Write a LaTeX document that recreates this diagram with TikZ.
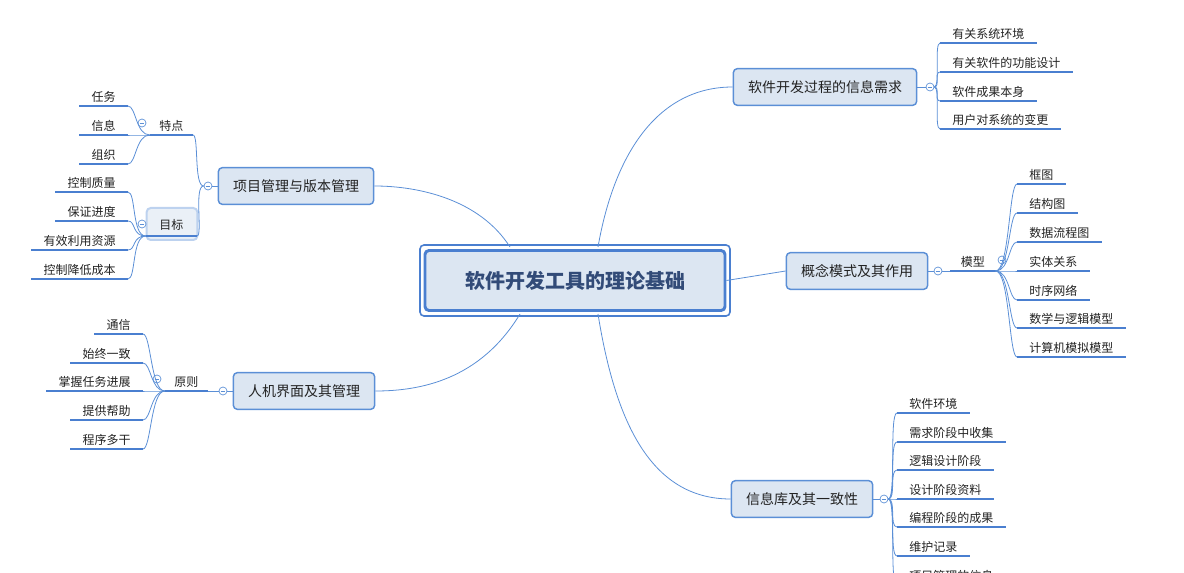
\documentclass[tikz,border=0pt]{standalone}
\usepackage{fontspec}
\setmainfont{Noto Sans CJK SC}
\definecolor{lb}{HTML}{5B8FD6}
\definecolor{ub}{HTML}{4A7FD0}
\definecolor{nf}{HTML}{DCE6F2}
\definecolor{tx}{HTML}{222222}
\begin{document}
\begin{tikzpicture}[x=0.75pt,y=-0.75pt,
 conn/.style={draw=lb,line width=0.6pt},
 branch/.style={draw=lb,line width=1.1pt,fill=nf,rounded corners=3pt,minimum height=27.5pt,inner xsep=11pt,font=\fontsize{10.5pt}{12pt}\selectfont,text=tx},
 leafr/.style={anchor=south west,inner xsep=9pt,inner ysep=2.5pt,font=\fontsize{9pt}{10pt}\selectfont,text=tx,
   append after command={\pgfextra{\draw[ub,line width=1.5pt](\tikzlastnode.south west)--(\tikzlastnode.south east);}}},
 leafl/.style={leafr,anchor=south east},
 tog/.style={circle,draw=lb,fill=white,minimum size=6pt,inner sep=0pt,line width=0.5pt,
   path picture={\draw[lb,line width=0.5pt]([xshift=-1.8pt]path picture bounding box.center)--([xshift=1.8pt]path picture bounding box.center);}}]
\useasboundingbox (0,0) rectangle (1184,573);
\clip (0,0) rectangle (1184,573);
% central
\draw[ub,line width=1.2pt,rounded corners=3pt] (420,245) rectangle (730,316);
\node[draw=ub,line width=2.2pt,fill=nf,rounded corners=3pt,minimum width=225pt,minimum height=45pt,font=\fontsize{15pt}{18pt}\selectfont\bfseries,text={rgb,255:red,50;green,75;blue,120}] (c) at (575,280.5) {软件开发工具的理论基础};
% branches
\node[branch] (b1) at (825,87) {软件开发过程的信息需求};
\node[branch] (b2) at (857,271) {概念模式及其作用};
\node[branch] (b3) at (802,499) {信息库及其一致性};
\node[branch] (b4) at (296,186) {项目管理与版本管理};
\node[branch] (b5) at (304,391) {人机界面及其管理};
\coordinate (ct1) at (598,247); \coordinate (ct2) at (510,247);
\coordinate (cb1) at (598,314); \coordinate (cb2) at (520,314);
\draw[conn] (ct1) .. controls (615,150) and (660,87) .. (b1.west);
\draw[conn] (c.east) -- (b2.west);
\draw[conn] (cb1) .. controls (615,420) and (650,499) .. (b3.west);
\draw[conn] (ct2) .. controls (480,200) and (420,186) .. (b4.east);
\draw[conn] (cb2) .. controls (480,380) and (420,391) .. (b5.east);
% toggles
\node[tog] (t1) at (930,87) {}; \node[tog] (t2) at (938,271) {}; \node[tog] (t3) at (884,499) {};
\node[tog] (t4) at (208,186) {}; \node[tog] (t5) at (223,391) {};
\draw[conn] (b1.east)--(t1.west); \draw[conn] (b2.east)--(t2.west); \draw[conn] (b3.east)--(t3.west);
\draw[conn] (b4.west)--(t4.east); \draw[conn] (b5.west)--(t5.east);
% b1 leaves
\node[leafr] (a1) at (940,43) {有关系统环境};
\node[leafr] (a2) at (940,72) {有关软件的功能设计};
\node[leafr] (a3) at (940,101) {软件成果本身};
\node[leafr] (a4) at (940,129) {用户对系统的变更};
\foreach \n in {a1,a2,a3,a4} \draw[conn] (t1.east) .. controls +(6,0) and +(-6,0) .. (\n.south west);
% b2
\node[leafr,minimum width=33.75pt,inner xsep=6pt] (m) at (950,271) {模型};
\draw[conn] (t2.east)--(m.south west);
\node[tog] (t6) at (1002,260) {};
\node[leafr] (d1) at (1017,184) {框图};
\node[leafr] (d2) at (1017,213) {结构图};
\node[leafr] (d3) at (1017,242) {数据流程图};
\node[leafr] (d4) at (1017,271) {实体关系};
\node[leafr] (d5) at (1017,300) {时序网络};
\node[leafr] (d6) at (1017,328) {数学与逻辑模型};
\node[leafr] (d7) at (1017,357) {计算机模拟模型};
\foreach \n in {d1,d2,d3,d4,d5,d6,d7} \draw[conn] (m.south east) .. controls +(14,0) and +(-8,0) .. (\n.south west);
% b3
\node[leafr] (e1) at (897,413) {软件环境};
\node[leafr] (e2) at (897,442) {需求阶段中收集};
\node[leafr] (e3) at (897,470) {逻辑设计阶段};
\node[leafr] (e4) at (897,499) {设计阶段资料};
\node[leafr] (e5) at (897,527) {编程阶段的成果};
\node[leafr] (e6) at (897,556) {维护记录};
\node[leafr] (e7) at (897,585) {项目管理的信息};
\foreach \n in {e1,e2,e3,e4,e5,e6,e7} \draw[conn] (t3.east) .. controls +(8,0) and +(-8,0) .. (\n.south west);
% b4
\node[leafl,minimum width=32pt,inner xsep=6pt] (f1) at (193,135) {特点};
\node[draw=lb!40,line width=1.5pt,fill=nf!60,rounded corners=3pt,minimum width=38pt,minimum height=24pt] (gbox) at (172,224) {};
\node[leafl,minimum width=38pt,inner xsep=6pt,inner ysep=4pt] (f2) at (197,236) {目标};
\draw[conn] (t4.west) .. controls +(-10,0) and +(6,0) .. (f1.south east);
\draw[conn] (t4.west) .. controls +(-10,0) and +(6,0) .. (f2.south east);
\node[tog] (t7) at (142,123) {}; \node[tog] (t8) at (142,224) {};
\node[leafl] (g1) at (128,106) {任务};
\node[leafl] (g2) at (128,135) {信息};
\node[leafl] (g3) at (128,164) {组织};
\foreach \n in {g1,g2,g3} \draw[conn] (f1.south west) .. controls +(-14,0) and +(8,0) .. (\n.south east);
\node[leafl] (h1) at (128,192) {控制质量};
\node[leafl] (h2) at (128,221) {保证进度};
\node[leafl] (h3) at (128,250) {有效利用资源};
\node[leafl] (h4) at (128,279) {控制降低成本};
\foreach \n in {h1,h2,h3,h4} \draw[conn] (f2.south west) .. controls +(-14,0) and +(8,0) .. (\n.south east);
% b5
\node[leafl,minimum width=32pt,inner xsep=6pt] (p) at (208,391) {原则};
\draw[conn] (t5.west)--(p.south east);
\node[tog] (t9) at (157,379) {};
\node[leafl] (k1) at (143,334) {通信};
\node[leafl] (k2) at (143,363) {始终一致};
\node[leafl] (k3) at (143,391) {掌握任务进展};
\node[leafl] (k4) at (143,420) {提供帮助};
\node[leafl] (k5) at (143,449) {程序多干};
\foreach \n in {k1,k2,k3,k4,k5} \draw[conn] (p.south west) .. controls +(-14,0) and +(8,0) .. (\n.south east);
\end{tikzpicture}
\end{document}
